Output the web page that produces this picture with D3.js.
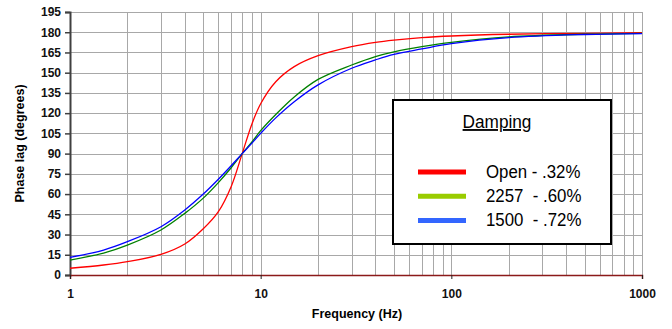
<!DOCTYPE html>
<html>
<head>
<meta charset="utf-8">
<script src="https://cdn.jsdelivr.net/npm/d3@7"></script>
<style>
  body { margin: 0; background: #fff; }
  svg { display: block; font-family: 'Liberation Sans', Arial, sans-serif; }
</style>
</head>
<body>
<div id="chart"></div>
<script>
const width = 672;
const height = 329;

// frequency points (Hz)
const freqs = [1, 1.5, 2, 3, 4, 5, 6, 7, 8, 9, 10, 12, 15, 20, 30, 40, 50, 70, 100, 200, 500, 1000];
// phase lag (degrees)
const openPhase = [5, 7.4, 9.9, 15.3, 23, 34.3, 47, 65.5, 90, 112, 127, 143.3, 154.5, 162.6, 169.3, 172.5, 174.2, 176, 177.2, 178.5, 179.2, 179.7];
const phase2257 = [11.1, 16.3, 22.2, 33.4, 45.7, 57, 68.5, 79.5, 90, 98.7, 107, 119, 132, 145, 155.7, 162, 165.5, 169.3, 172.5, 176.5, 178.5, 179.2];
const phase1500 = [13.1, 18.5, 24.7, 35.8, 48.2, 60, 71, 81, 90, 97.8, 105, 116.5, 128.5, 141, 153.3, 159.5, 163.6, 167.6, 171.5, 176, 178.3, 179];

const series = [
  { name: 'Open - .32%', values: openPhase, line: '#ff0000', key: '#ff0000' },
  { name: '2257  - .60%', values: phase2257, line: '#008000', key: '#99cc00' },
  { name: '1500  - .72%', values: phase1500, line: '#0000ff', key: '#3366ff' },
];

const yTicks = d3.range(0, 196, 15);
const xMajor = [1, 10, 100, 1000];
const xMinor = [2, 3, 4, 5, 6, 7, 8, 9, 20, 30, 40, 50, 60, 70, 80, 90, 200, 300, 400, 500, 600, 700, 800, 900];

const margin = { left: 70, right: 30, top: 12, bottom: 54 };

const x = d3.scaleLog().domain([1, 1000]).range([margin.left, width - margin.right]);
const y = d3.scaleLinear().domain([0, 195]).range([height - margin.bottom, margin.top]);

const svg = d3.select('#chart')
  .append('svg')
  .attr('width', width)
  .attr('height', height);

const crisp = (v) => Math.round(v) + 0.5;

// gridlines
svg.append('g')
  .selectAll('line')
  .data(yTicks.slice(1))
  .join('line')
  .attr('x1', x(1)).attr('x2', x(1000))
  .attr('y1', (d) => crisp(y(d))).attr('y2', (d) => crisp(y(d)))
  .attr('stroke', '#a8a8a8');

svg.append('g')
  .selectAll('line')
  .data(xMinor.concat([10, 100, 1000]))
  .join('line')
  .attr('x1', (d) => crisp(x(d))).attr('x2', (d) => crisp(x(d)))
  .attr('y1', y(195)).attr('y2', y(0))
  .attr('stroke', '#a8a8a8');

// y axis
const yAxis = svg.append('g')
  .attr('transform', `translate(${margin.left},0)`)
  .call(d3.axisLeft(y).tickValues(yTicks).tickSize(5).tickPadding(4));
yAxis.select('.domain').attr('stroke', '#404040').attr('stroke-width', 2);
yAxis.selectAll('.tick line').attr('stroke', '#404040').attr('stroke-width', 1.5);
yAxis.selectAll('text')
  .attr('font-size', 12).attr('font-weight', 'bold').attr('fill', '#111')
  .attr('font-family', "'Liberation Sans', Arial, sans-serif");

// x axis
const xAxis = svg.append('g')
  .attr('transform', `translate(0,${y(0)})`)
  .call(d3.axisBottom(x).tickValues(xMajor).tickFormat(d3.format('d')).tickSize(4).tickPadding(10));
xAxis.select('.domain').attr('stroke', '#8b1a1a').attr('stroke-width', 1.5);
xAxis.selectAll('.tick line').attr('stroke', '#222');
xAxis.selectAll('text')
  .attr('font-size', 12).attr('font-weight', 'bold').attr('fill', '#111')
  .attr('font-family', "'Liberation Sans', Arial, sans-serif");

// axis titles
svg.append('text')
  .attr('transform', `translate(24,${(y(0) + y(195)) / 2}) rotate(-90)`)
  .attr('text-anchor', 'middle')
  .attr('font-size', 12.5).attr('font-weight', 'bold')
  .text('Phase lag (degrees)');

svg.append('text')
  .attr('x', 357).attr('y', 318)
  .attr('text-anchor', 'middle')
  .attr('font-size', 12.5).attr('font-weight', 'bold')
  .text('Frequency (Hz)');

// curves
const line = d3.line()
  .x((d) => x(d[0]))
  .y((d) => y(d[1]))
  .curve(d3.curveCatmullRom.alpha(0.5));

svg.append('g')
  .selectAll('path')
  .data(series)
  .join('path')
  .attr('d', (s) => line(freqs.map((f, i) => [f, s.values[i]])))
  .attr('fill', 'none')
  .attr('stroke', (s) => s.line)
  .attr('stroke-width', 1.3);

// legend
const legend = svg.append('g');
legend.append('rect')
  .attr('x', 393).attr('y', 100).attr('width', 218).attr('height', 144)
  .attr('fill', '#fff').attr('stroke', '#000').attr('stroke-width', 2);

legend.append('text')
  .attr('transform', 'translate(497,128) scale(0.93,1)')
  .attr('text-anchor', 'middle')
  .attr('font-size', 18.5)
  .attr('text-decoration', 'underline')
  .text('Damping');

const rows = legend.selectAll('.row')
  .data(series)
  .join('g')
  .attr('class', 'row')
  .attr('transform', (s, i) => `translate(0,${172 + i * 24.2})`);

rows.append('line')
  .attr('x1', 418).attr('x2', 466)
  .attr('stroke', (s) => s.key)
  .attr('stroke-width', 5);

rows.append('text')
  .attr('transform', 'translate(486,6) scale(0.91,1)')
  .attr('font-size', 18.5)
  .attr('xml:space', 'preserve')
  .style('white-space', 'pre')
  .text((s) => s.name);
</script>
</body>
</html>
